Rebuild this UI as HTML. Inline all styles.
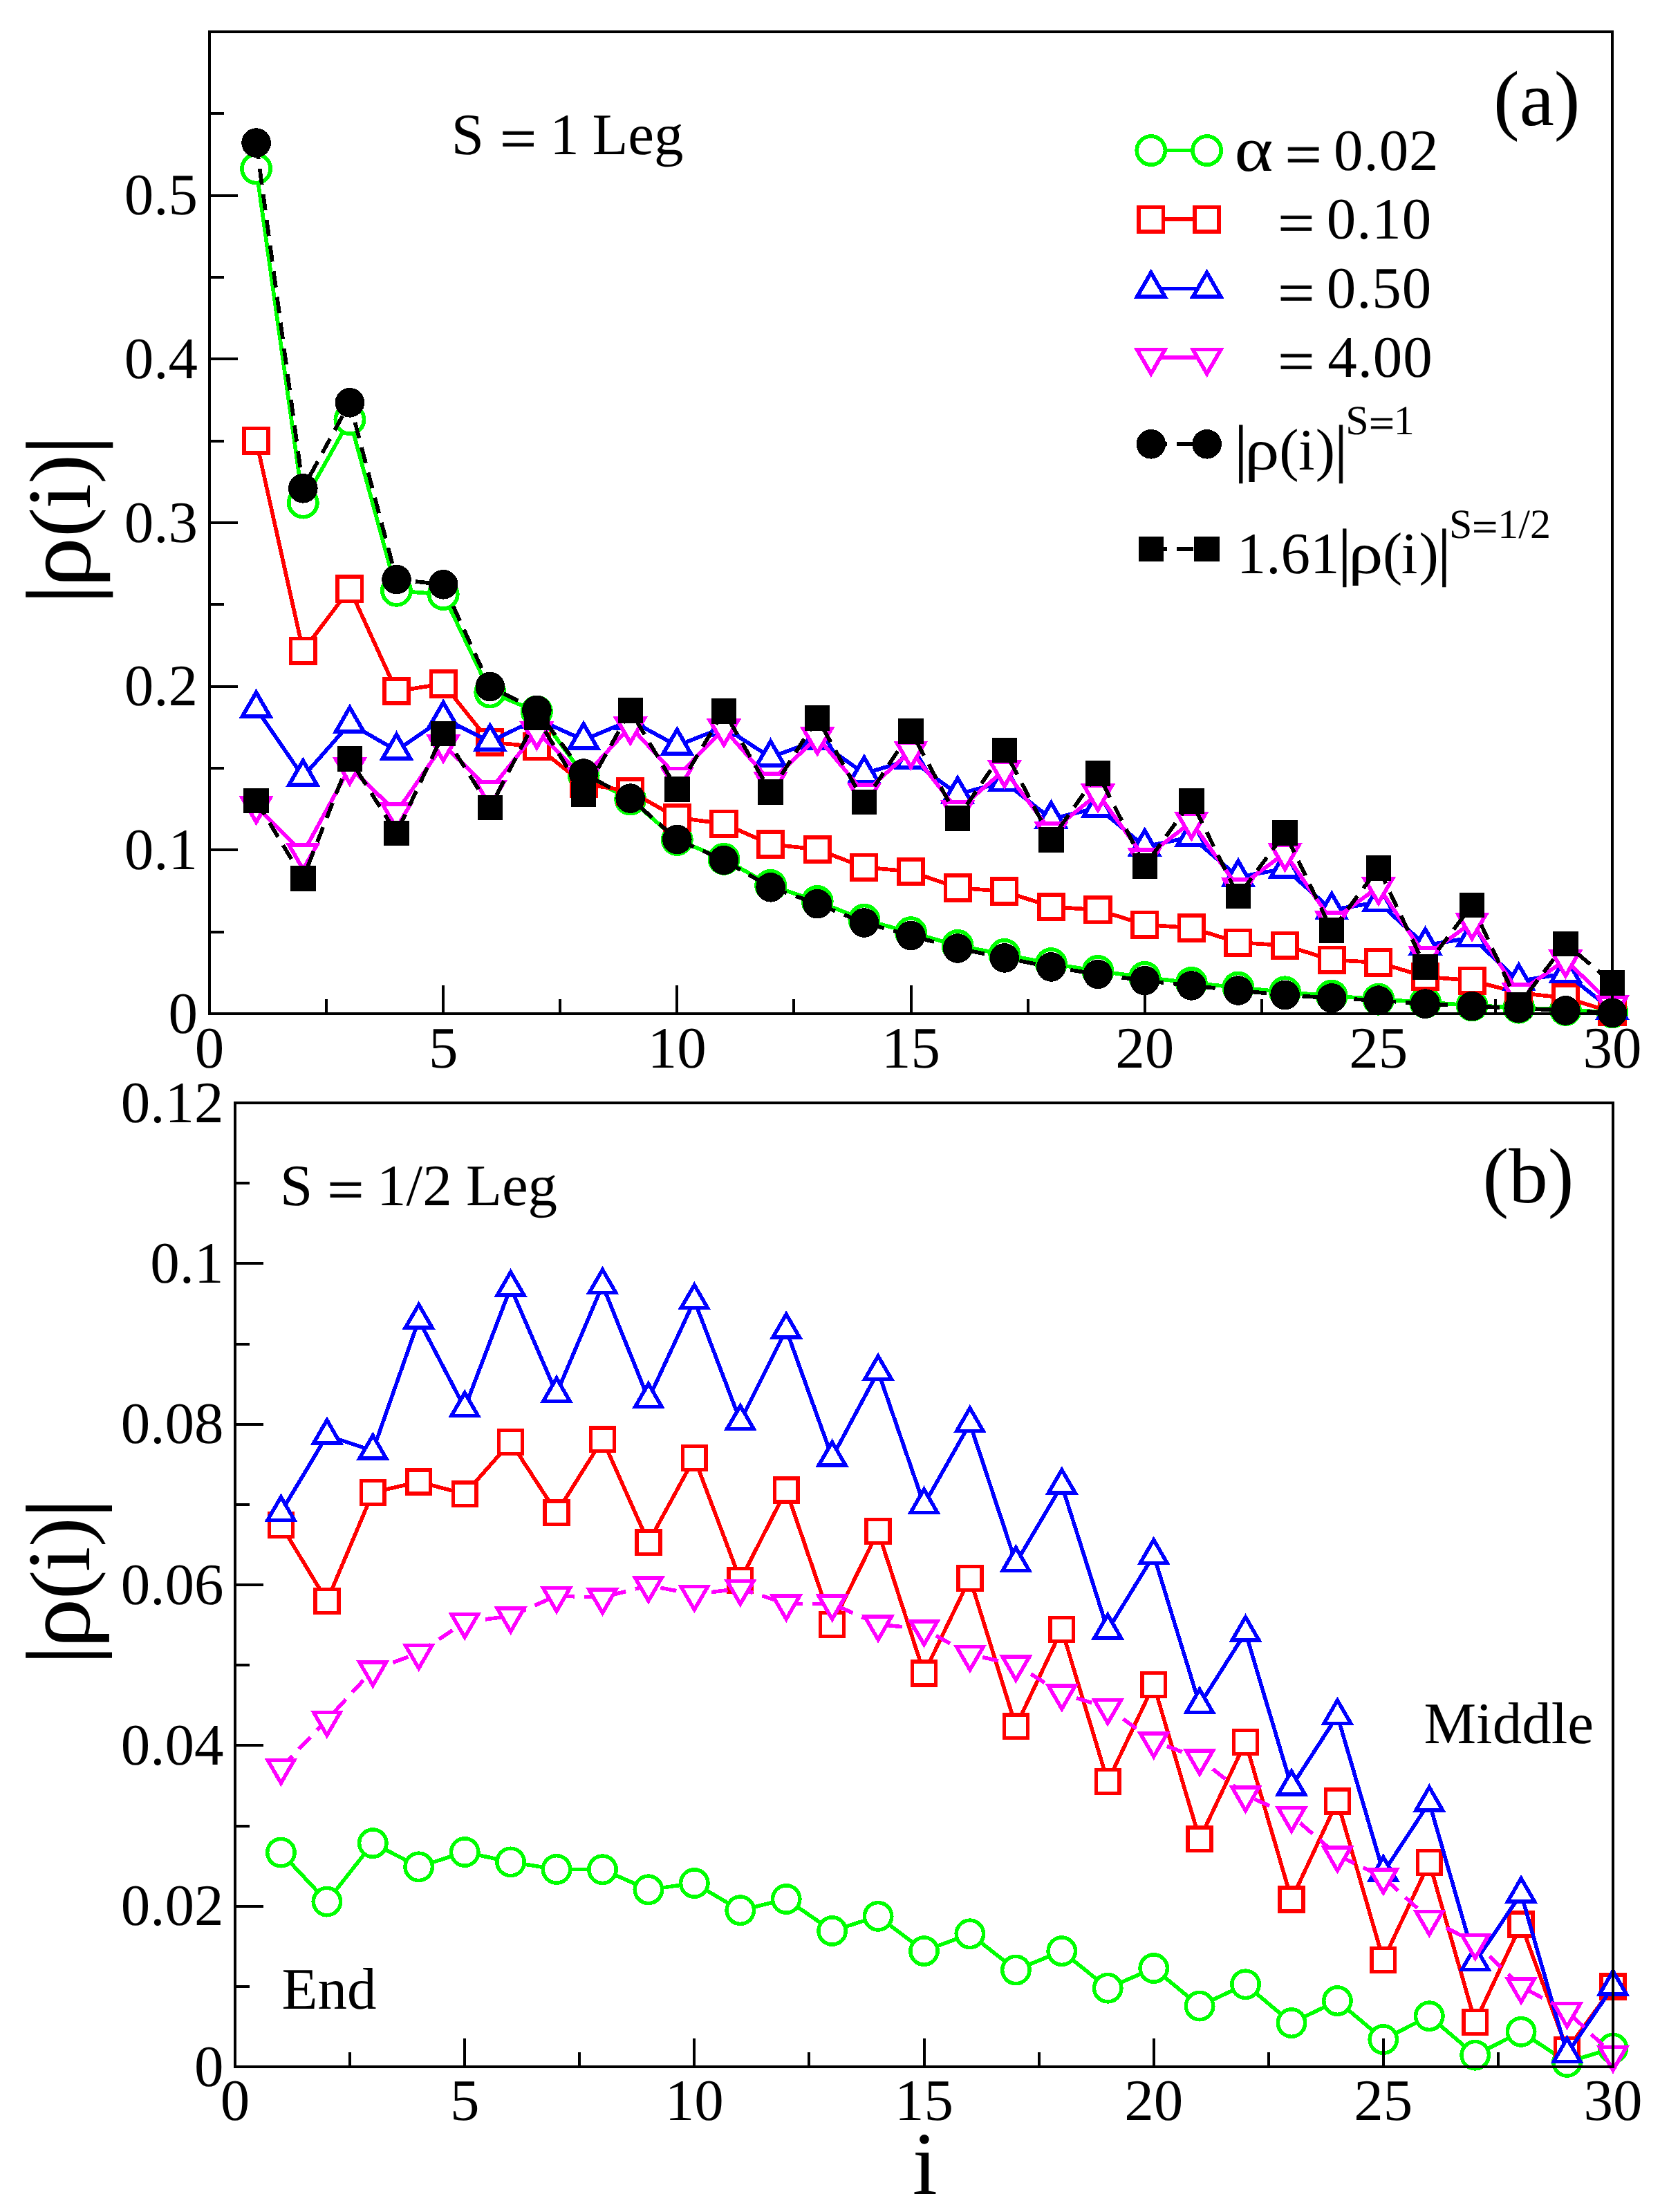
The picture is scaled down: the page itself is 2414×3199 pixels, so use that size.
<!DOCTYPE html>
<html lang="en"><head><meta charset="utf-8"><title>rho(i) profiles</title>
<style>html,body{margin:0;padding:0;background:#fff}svg{display:block}</style></head>
<body>
<svg width="2414" height="3199" viewBox="0 0 2414 3199" font-family='"Liberation Serif", "DejaVu Serif", serif' fill="#000" shape-rendering="crispEdges">
<rect x="0" y="0" width="2414" height="3199" fill="#ffffff"/>
<polyline points="370.6,244 438.3,727.1 505.9,606.7 573.5,854.3 641.2,859.6 708.8,1001 776.4,1029 844.1,1121 911.7,1156 979.3,1214.5 1047,1242.3 1114.6,1280.4 1182.2,1303.5 1249.9,1330.2 1317.5,1348.6 1385.1,1367.4 1452.8,1380.4 1520.4,1393.6 1588,1404.4 1655.7,1413.3 1723.3,1421.4 1790.9,1428.1 1858.6,1434.8 1926.2,1440.1 1993.8,1445.2 2061.5,1449.5 2129.1,1454 2196.7,1457.2 2264.4,1460.5 2332,1464" fill="none" stroke="#00ff00" stroke-width="5.7" stroke-linejoin="round"/>
<g fill="#ffffff" stroke="#00ff00" stroke-width="5.7" stroke-linejoin="miter" stroke-miterlimit="10">
<circle cx="370.6" cy="244" r="20.6"/>
<circle cx="438.3" cy="727.1" r="20.6"/>
<circle cx="505.9" cy="606.7" r="20.6"/>
<circle cx="573.5" cy="854.3" r="20.6"/>
<circle cx="641.2" cy="859.6" r="20.6"/>
<circle cx="708.8" cy="1001" r="20.6"/>
<circle cx="776.4" cy="1029" r="20.6"/>
<circle cx="844.1" cy="1121" r="20.6"/>
<circle cx="911.7" cy="1156" r="20.6"/>
<circle cx="979.3" cy="1214.5" r="20.6"/>
<circle cx="1047" cy="1242.3" r="20.6"/>
<circle cx="1114.6" cy="1280.4" r="20.6"/>
<circle cx="1182.2" cy="1303.5" r="20.6"/>
<circle cx="1249.9" cy="1330.2" r="20.6"/>
<circle cx="1317.5" cy="1348.6" r="20.6"/>
<circle cx="1385.1" cy="1367.4" r="20.6"/>
<circle cx="1452.8" cy="1380.4" r="20.6"/>
<circle cx="1520.4" cy="1393.6" r="20.6"/>
<circle cx="1588" cy="1404.4" r="20.6"/>
<circle cx="1655.7" cy="1413.3" r="20.6"/>
<circle cx="1723.3" cy="1421.4" r="20.6"/>
<circle cx="1790.9" cy="1428.1" r="20.6"/>
<circle cx="1858.6" cy="1434.8" r="20.6"/>
<circle cx="1926.2" cy="1440.1" r="20.6"/>
<circle cx="1993.8" cy="1445.2" r="20.6"/>
<circle cx="2061.5" cy="1449.5" r="20.6"/>
<circle cx="2129.1" cy="1454" r="20.6"/>
<circle cx="2196.7" cy="1457.2" r="20.6"/>
<circle cx="2264.4" cy="1460.5" r="20.6"/>
<circle cx="2332" cy="1464" r="20.6"/>
</g>
<polyline points="370.6,637.3 438.3,941.3 505.9,851.7 573.5,999.5 641.2,989 708.8,1073.5 776.4,1079.7 844.1,1133.5 911.7,1144.5 979.3,1182.5 1047,1191.2 1114.6,1221 1182.2,1228.4 1249.9,1254.3 1317.5,1260.4 1385.1,1284 1452.8,1289 1520.4,1311.4 1588,1315.9 1655.7,1337.1 1723.3,1342 1790.9,1363.1 1858.6,1367.2 1926.2,1388.3 1993.8,1392 2061.5,1412.6 2129.1,1418.1 2196.7,1436 2264.4,1443 2332,1463.7" fill="none" stroke="#ff0000" stroke-width="5.7" stroke-linejoin="round"/>
<g fill="#ffffff" stroke="#ff0000" stroke-width="5.7" stroke-linejoin="miter" stroke-miterlimit="10">
<rect x="352.9" y="619.6" width="35.4" height="35.4"/>
<rect x="420.6" y="923.6" width="35.4" height="35.4"/>
<rect x="488.2" y="834" width="35.4" height="35.4"/>
<rect x="555.8" y="981.8" width="35.4" height="35.4"/>
<rect x="623.5" y="971.3" width="35.4" height="35.4"/>
<rect x="691.1" y="1055.8" width="35.4" height="35.4"/>
<rect x="758.7" y="1062" width="35.4" height="35.4"/>
<rect x="826.4" y="1115.8" width="35.4" height="35.4"/>
<rect x="894" y="1126.8" width="35.4" height="35.4"/>
<rect x="961.6" y="1164.8" width="35.4" height="35.4"/>
<rect x="1029.3" y="1173.5" width="35.4" height="35.4"/>
<rect x="1096.9" y="1203.3" width="35.4" height="35.4"/>
<rect x="1164.5" y="1210.7" width="35.4" height="35.4"/>
<rect x="1232.2" y="1236.6" width="35.4" height="35.4"/>
<rect x="1299.8" y="1242.7" width="35.4" height="35.4"/>
<rect x="1367.4" y="1266.3" width="35.4" height="35.4"/>
<rect x="1435.1" y="1271.3" width="35.4" height="35.4"/>
<rect x="1502.7" y="1293.7" width="35.4" height="35.4"/>
<rect x="1570.3" y="1298.2" width="35.4" height="35.4"/>
<rect x="1638" y="1319.4" width="35.4" height="35.4"/>
<rect x="1705.6" y="1324.3" width="35.4" height="35.4"/>
<rect x="1773.2" y="1345.4" width="35.4" height="35.4"/>
<rect x="1840.9" y="1349.5" width="35.4" height="35.4"/>
<rect x="1908.5" y="1370.6" width="35.4" height="35.4"/>
<rect x="1976.1" y="1374.3" width="35.4" height="35.4"/>
<rect x="2043.8" y="1394.9" width="35.4" height="35.4"/>
<rect x="2111.4" y="1400.4" width="35.4" height="35.4"/>
<rect x="2179" y="1418.3" width="35.4" height="35.4"/>
<rect x="2246.7" y="1425.3" width="35.4" height="35.4"/>
<rect x="2314.3" y="1446" width="35.4" height="35.4"/>
</g>
<polyline points="370.6,1024.6 438.3,1123.3 505.9,1046.4 573.5,1085.4 641.2,1039.1 708.8,1072.6 776.4,1039.7 844.1,1070.2 911.7,1041.7 979.3,1078.5 1047,1051.7 1114.6,1095.3 1182.2,1070.2 1249.9,1118.7 1317.5,1098.5 1385.1,1148.6 1452.8,1130.8 1520.4,1184.3 1588,1168.1 1655.7,1224.3 1723.3,1210.5 1790.9,1268.4 1858.6,1256.3 1926.2,1315.9 1993.8,1304.7 2061.5,1367.1 2129.1,1355.9 2196.7,1418.9 2264.4,1407.7 2332,1460.9" fill="none" stroke="#0000ff" stroke-width="5.7" stroke-linejoin="round"/>
<g fill="#ffffff" stroke="#0000ff" stroke-width="5.7" stroke-linejoin="miter" stroke-miterlimit="10">
<polygon points="370.6,1001.3 350.4,1036.3 390.8,1036.3"/>
<polygon points="438.3,1100 418.1,1135 458.5,1135"/>
<polygon points="505.9,1023.1 485.7,1058.1 526.1,1058.1"/>
<polygon points="573.5,1062.1 553.3,1097.1 593.7,1097.1"/>
<polygon points="641.2,1015.8 621,1050.8 661.4,1050.8"/>
<polygon points="708.8,1049.3 688.6,1084.3 729,1084.3"/>
<polygon points="776.4,1016.4 756.2,1051.4 796.6,1051.4"/>
<polygon points="844.1,1046.9 823.9,1081.9 864.3,1081.9"/>
<polygon points="911.7,1018.4 891.5,1053.4 931.9,1053.4"/>
<polygon points="979.3,1055.2 959.1,1090.2 999.5,1090.2"/>
<polygon points="1047,1028.4 1026.8,1063.4 1067.2,1063.4"/>
<polygon points="1114.6,1072 1094.4,1107 1134.8,1107"/>
<polygon points="1182.2,1046.9 1162,1081.9 1202.4,1081.9"/>
<polygon points="1249.9,1095.4 1229.7,1130.4 1270.1,1130.4"/>
<polygon points="1317.5,1075.2 1297.3,1110.2 1337.7,1110.2"/>
<polygon points="1385.1,1125.3 1364.9,1160.3 1405.3,1160.3"/>
<polygon points="1452.8,1107.5 1432.6,1142.5 1473,1142.5"/>
<polygon points="1520.4,1161 1500.2,1196 1540.6,1196"/>
<polygon points="1588,1144.8 1567.8,1179.8 1608.2,1179.8"/>
<polygon points="1655.7,1201 1635.5,1236 1675.9,1236"/>
<polygon points="1723.3,1187.2 1703.1,1222.2 1743.5,1222.2"/>
<polygon points="1790.9,1245.1 1770.7,1280.1 1811.1,1280.1"/>
<polygon points="1858.6,1233 1838.4,1268 1878.8,1268"/>
<polygon points="1926.2,1292.6 1906,1327.6 1946.4,1327.6"/>
<polygon points="1993.8,1281.4 1973.6,1316.4 2014,1316.4"/>
<polygon points="2061.5,1343.8 2041.3,1378.8 2081.7,1378.8"/>
<polygon points="2129.1,1332.6 2108.9,1367.6 2149.3,1367.6"/>
<polygon points="2196.7,1395.6 2176.5,1430.6 2216.9,1430.6"/>
<polygon points="2264.4,1384.4 2244.2,1419.4 2284.6,1419.4"/>
<polygon points="2332,1437.6 2311.8,1472.6 2352.2,1472.6"/>
</g>
<polyline points="370.6,1165.6 438.3,1233.8 505.9,1109.7 573.5,1174.5 641.2,1076.7 708.8,1142.7 776.4,1057.8 844.1,1123.9 911.7,1050.8 979.3,1123.3 1047,1054 1114.6,1130.6 1182.2,1065.9 1249.9,1146.7 1317.5,1086.1 1385.1,1171.8 1452.8,1113.7 1520.4,1202.6 1588,1148 1655.7,1240.7 1723.3,1188.7 1790.9,1283.6 1858.6,1233.8 1926.2,1331.9 1993.8,1282.6 2061.5,1382.6 2129.1,1334.1 2196.7,1435.7 2264.4,1388 2332,1453.9" fill="none" stroke="#ff00ff" stroke-width="5.7" stroke-linejoin="round"/>
<g fill="#ffffff" stroke="#ff00ff" stroke-width="5.7" stroke-linejoin="miter" stroke-miterlimit="10">
<polygon points="370.6,1188.9 350.4,1153.9 390.8,1153.9"/>
<polygon points="438.3,1257.1 418.1,1222.1 458.5,1222.1"/>
<polygon points="505.9,1133 485.7,1098 526.1,1098"/>
<polygon points="573.5,1197.8 553.3,1162.8 593.7,1162.8"/>
<polygon points="641.2,1100 621,1065 661.4,1065"/>
<polygon points="708.8,1166 688.6,1131 729,1131"/>
<polygon points="776.4,1081.1 756.2,1046.1 796.6,1046.1"/>
<polygon points="844.1,1147.2 823.9,1112.2 864.3,1112.2"/>
<polygon points="911.7,1074.1 891.5,1039.1 931.9,1039.1"/>
<polygon points="979.3,1146.6 959.1,1111.6 999.5,1111.6"/>
<polygon points="1047,1077.3 1026.8,1042.3 1067.2,1042.3"/>
<polygon points="1114.6,1153.9 1094.4,1118.9 1134.8,1118.9"/>
<polygon points="1182.2,1089.2 1162,1054.2 1202.4,1054.2"/>
<polygon points="1249.9,1170 1229.7,1135 1270.1,1135"/>
<polygon points="1317.5,1109.4 1297.3,1074.4 1337.7,1074.4"/>
<polygon points="1385.1,1195.1 1364.9,1160.1 1405.3,1160.1"/>
<polygon points="1452.8,1137 1432.6,1102 1473,1102"/>
<polygon points="1520.4,1225.9 1500.2,1190.9 1540.6,1190.9"/>
<polygon points="1588,1171.3 1567.8,1136.3 1608.2,1136.3"/>
<polygon points="1655.7,1264 1635.5,1229 1675.9,1229"/>
<polygon points="1723.3,1212 1703.1,1177 1743.5,1177"/>
<polygon points="1790.9,1306.9 1770.7,1271.9 1811.1,1271.9"/>
<polygon points="1858.6,1257.1 1838.4,1222.1 1878.8,1222.1"/>
<polygon points="1926.2,1355.2 1906,1320.2 1946.4,1320.2"/>
<polygon points="1993.8,1305.9 1973.6,1270.9 2014,1270.9"/>
<polygon points="2061.5,1405.9 2041.3,1370.9 2081.7,1370.9"/>
<polygon points="2129.1,1357.4 2108.9,1322.4 2149.3,1322.4"/>
<polygon points="2196.7,1459 2176.5,1424 2216.9,1424"/>
<polygon points="2264.4,1411.3 2244.2,1376.3 2284.6,1376.3"/>
<polygon points="2332,1477.2 2311.8,1442.2 2352.2,1442.2"/>
</g>
<polyline points="370.6,206.6 438.3,706.3 505.9,582.3 573.5,838.1 641.2,845.3 708.8,993 776.4,1027 844.1,1118.5 911.7,1154.6 979.3,1214 1047,1244 1114.6,1283.3 1182.2,1307.2 1249.9,1334.5 1317.5,1353 1385.1,1371.5 1452.8,1385.4 1520.4,1398.4 1588,1409 1655.7,1418.1 1723.3,1425.4 1790.9,1432.5 1858.6,1439 1926.2,1443.4 1993.8,1447 2061.5,1451.6 2129.1,1455.1 2196.7,1458.1 2264.4,1461.4 2332,1464.8" fill="none" stroke="#000000" stroke-width="5.7" stroke-linejoin="round" stroke-dasharray="23.5 14"/>
<g fill="#000000" stroke="none">
<circle cx="370.6" cy="206.6" r="21.3"/>
<circle cx="438.3" cy="706.3" r="21.3"/>
<circle cx="505.9" cy="582.3" r="21.3"/>
<circle cx="573.5" cy="838.1" r="21.3"/>
<circle cx="641.2" cy="845.3" r="21.3"/>
<circle cx="708.8" cy="993" r="21.3"/>
<circle cx="776.4" cy="1027" r="21.3"/>
<circle cx="844.1" cy="1118.5" r="21.3"/>
<circle cx="911.7" cy="1154.6" r="21.3"/>
<circle cx="979.3" cy="1214" r="21.3"/>
<circle cx="1047" cy="1244" r="21.3"/>
<circle cx="1114.6" cy="1283.3" r="21.3"/>
<circle cx="1182.2" cy="1307.2" r="21.3"/>
<circle cx="1249.9" cy="1334.5" r="21.3"/>
<circle cx="1317.5" cy="1353" r="21.3"/>
<circle cx="1385.1" cy="1371.5" r="21.3"/>
<circle cx="1452.8" cy="1385.4" r="21.3"/>
<circle cx="1520.4" cy="1398.4" r="21.3"/>
<circle cx="1588" cy="1409" r="21.3"/>
<circle cx="1655.7" cy="1418.1" r="21.3"/>
<circle cx="1723.3" cy="1425.4" r="21.3"/>
<circle cx="1790.9" cy="1432.5" r="21.3"/>
<circle cx="1858.6" cy="1439" r="21.3"/>
<circle cx="1926.2" cy="1443.4" r="21.3"/>
<circle cx="1993.8" cy="1447" r="21.3"/>
<circle cx="2061.5" cy="1451.6" r="21.3"/>
<circle cx="2129.1" cy="1455.1" r="21.3"/>
<circle cx="2196.7" cy="1458.1" r="21.3"/>
<circle cx="2264.4" cy="1461.4" r="21.3"/>
<circle cx="2332" cy="1464.8" r="21.3"/>
</g>
<polyline points="370.6,1158 438.3,1270.4 505.9,1097.6 573.5,1205 641.2,1060.7 708.8,1168 776.4,1037.7 844.1,1148.8 911.7,1027.5 979.3,1141.4 1047,1028.6 1114.6,1145.6 1182.2,1038.6 1249.9,1160 1317.5,1057.4 1385.1,1183.5 1452.8,1084.7 1520.4,1214.4 1588,1118.6 1655.7,1252.4 1723.3,1158.5 1790.9,1296.2 1858.6,1204.5 1926.2,1345.5 1993.8,1255.6 2061.5,1398.4 2129.1,1309.2 2196.7,1453.3 2264.4,1364.7 2332,1421.4" fill="none" stroke="#000000" stroke-width="5.7" stroke-linejoin="round" stroke-dasharray="23.5 14"/>
<g fill="#000000" stroke="none">
<rect x="352.4" y="1139.8" width="36.4" height="36.4"/>
<rect x="420.1" y="1252.2" width="36.4" height="36.4"/>
<rect x="487.7" y="1079.4" width="36.4" height="36.4"/>
<rect x="555.3" y="1186.8" width="36.4" height="36.4"/>
<rect x="623" y="1042.5" width="36.4" height="36.4"/>
<rect x="690.6" y="1149.8" width="36.4" height="36.4"/>
<rect x="758.2" y="1019.5" width="36.4" height="36.4"/>
<rect x="825.9" y="1130.6" width="36.4" height="36.4"/>
<rect x="893.5" y="1009.3" width="36.4" height="36.4"/>
<rect x="961.1" y="1123.2" width="36.4" height="36.4"/>
<rect x="1028.8" y="1010.4" width="36.4" height="36.4"/>
<rect x="1096.4" y="1127.4" width="36.4" height="36.4"/>
<rect x="1164" y="1020.4" width="36.4" height="36.4"/>
<rect x="1231.7" y="1141.8" width="36.4" height="36.4"/>
<rect x="1299.3" y="1039.2" width="36.4" height="36.4"/>
<rect x="1366.9" y="1165.3" width="36.4" height="36.4"/>
<rect x="1434.6" y="1066.5" width="36.4" height="36.4"/>
<rect x="1502.2" y="1196.2" width="36.4" height="36.4"/>
<rect x="1569.8" y="1100.4" width="36.4" height="36.4"/>
<rect x="1637.5" y="1234.2" width="36.4" height="36.4"/>
<rect x="1705.1" y="1140.3" width="36.4" height="36.4"/>
<rect x="1772.7" y="1278" width="36.4" height="36.4"/>
<rect x="1840.4" y="1186.3" width="36.4" height="36.4"/>
<rect x="1908" y="1327.3" width="36.4" height="36.4"/>
<rect x="1975.6" y="1237.4" width="36.4" height="36.4"/>
<rect x="2043.3" y="1380.2" width="36.4" height="36.4"/>
<rect x="2110.9" y="1291" width="36.4" height="36.4"/>
<rect x="2178.5" y="1435.1" width="36.4" height="36.4"/>
<rect x="2246.2" y="1346.5" width="36.4" height="36.4"/>
<rect x="2313.8" y="1403.2" width="36.4" height="36.4"/>
</g>
<polyline points="406.4,2679.1 472.9,2750.1 539.3,2665.6 605.7,2699.8 672.2,2678.5 738.6,2692.9 805,2703.4 871.5,2703.7 937.9,2732.8 1004.3,2723.5 1070.8,2762.7 1137.2,2746.5 1203.6,2792.5 1270.1,2771.3 1336.5,2821.6 1402.9,2796.8 1469.4,2849 1535.8,2821.7 1602.2,2875.2 1668.7,2846.5 1735.1,2901.1 1801.5,2869.8 1868,2925.6 1934.4,2893.6 2000.8,2949.5 2067.3,2915.7 2133.7,2972.2 2200.1,2938.3 2266.6,2982.4 2333,2962" fill="none" stroke="#00ff00" stroke-width="5.6" stroke-linejoin="round"/>
<g fill="#ffffff" stroke="#00ff00" stroke-width="5.5" stroke-linejoin="miter" stroke-miterlimit="10">
<circle cx="406.4" cy="2679.1" r="19.7"/>
<circle cx="472.9" cy="2750.1" r="19.7"/>
<circle cx="539.3" cy="2665.6" r="19.7"/>
<circle cx="605.7" cy="2699.8" r="19.7"/>
<circle cx="672.2" cy="2678.5" r="19.7"/>
<circle cx="738.6" cy="2692.9" r="19.7"/>
<circle cx="805" cy="2703.4" r="19.7"/>
<circle cx="871.5" cy="2703.7" r="19.7"/>
<circle cx="937.9" cy="2732.8" r="19.7"/>
<circle cx="1004.3" cy="2723.5" r="19.7"/>
<circle cx="1070.8" cy="2762.7" r="19.7"/>
<circle cx="1137.2" cy="2746.5" r="19.7"/>
<circle cx="1203.6" cy="2792.5" r="19.7"/>
<circle cx="1270.1" cy="2771.3" r="19.7"/>
<circle cx="1336.5" cy="2821.6" r="19.7"/>
<circle cx="1402.9" cy="2796.8" r="19.7"/>
<circle cx="1469.4" cy="2849" r="19.7"/>
<circle cx="1535.8" cy="2821.7" r="19.7"/>
<circle cx="1602.2" cy="2875.2" r="19.7"/>
<circle cx="1668.7" cy="2846.5" r="19.7"/>
<circle cx="1735.1" cy="2901.1" r="19.7"/>
<circle cx="1801.5" cy="2869.8" r="19.7"/>
<circle cx="1868" cy="2925.6" r="19.7"/>
<circle cx="1934.4" cy="2893.6" r="19.7"/>
<circle cx="2000.8" cy="2949.5" r="19.7"/>
<circle cx="2067.3" cy="2915.7" r="19.7"/>
<circle cx="2133.7" cy="2972.2" r="19.7"/>
<circle cx="2200.1" cy="2938.3" r="19.7"/>
<circle cx="2266.6" cy="2982.4" r="19.7"/>
<circle cx="2333" cy="2962" r="19.7"/>
</g>
<polyline points="406.4,2205.5 472.9,2315.4 539.3,2158.5 605.7,2143 672.2,2160.7 738.6,2085.4 805,2187.8 871.5,2081.7 937.9,2230.7 1004.3,2108.6 1070.8,2285.3 1137.2,2155 1203.6,2349.5 1270.1,2214.5 1336.5,2420 1402.9,2282.5 1469.4,2496.7 1535.8,2356.5 1602.2,2576.5 1668.7,2436.6 1735.1,2659.8 1801.5,2519.5 1868,2747 1934.4,2605 2000.8,2834.6 2067.3,2693.5 2133.7,2924.4 2200.1,2783.1 2266.6,2964.3 2333,2873" fill="none" stroke="#ff0000" stroke-width="5.6" stroke-linejoin="round"/>
<g fill="#ffffff" stroke="#ff0000" stroke-width="5.5" stroke-linejoin="miter" stroke-miterlimit="10">
<rect x="389.5" y="2188.6" width="33.8" height="33.8"/>
<rect x="456" y="2298.5" width="33.8" height="33.8"/>
<rect x="522.4" y="2141.6" width="33.8" height="33.8"/>
<rect x="588.8" y="2126.1" width="33.8" height="33.8"/>
<rect x="655.3" y="2143.8" width="33.8" height="33.8"/>
<rect x="721.7" y="2068.5" width="33.8" height="33.8"/>
<rect x="788.1" y="2170.9" width="33.8" height="33.8"/>
<rect x="854.6" y="2064.8" width="33.8" height="33.8"/>
<rect x="921" y="2213.8" width="33.8" height="33.8"/>
<rect x="987.4" y="2091.7" width="33.8" height="33.8"/>
<rect x="1053.9" y="2268.4" width="33.8" height="33.8"/>
<rect x="1120.3" y="2138.1" width="33.8" height="33.8"/>
<rect x="1186.7" y="2332.6" width="33.8" height="33.8"/>
<rect x="1253.2" y="2197.6" width="33.8" height="33.8"/>
<rect x="1319.6" y="2403.1" width="33.8" height="33.8"/>
<rect x="1386" y="2265.6" width="33.8" height="33.8"/>
<rect x="1452.5" y="2479.8" width="33.8" height="33.8"/>
<rect x="1518.9" y="2339.6" width="33.8" height="33.8"/>
<rect x="1585.3" y="2559.6" width="33.8" height="33.8"/>
<rect x="1651.8" y="2419.7" width="33.8" height="33.8"/>
<rect x="1718.2" y="2642.9" width="33.8" height="33.8"/>
<rect x="1784.6" y="2502.6" width="33.8" height="33.8"/>
<rect x="1851.1" y="2730.1" width="33.8" height="33.8"/>
<rect x="1917.5" y="2588.1" width="33.8" height="33.8"/>
<rect x="1983.9" y="2817.7" width="33.8" height="33.8"/>
<rect x="2050.4" y="2676.6" width="33.8" height="33.8"/>
<rect x="2116.8" y="2907.5" width="33.8" height="33.8"/>
<rect x="2183.2" y="2766.2" width="33.8" height="33.8"/>
<rect x="2249.7" y="2947.4" width="33.8" height="33.8"/>
<rect x="2316.1" y="2856.1" width="33.8" height="33.8"/>
</g>
<polyline points="406.4,2187.2 472.9,2076 539.3,2098.1 605.7,1908.9 672.2,2036.5 738.6,1861.9 805,2015.4 871.5,1858.5 937.9,2023.5 1004.3,1880.6 1070.8,2055.4 1137.2,1922.9 1203.6,2107.8 1270.1,1983.4 1336.5,2176.2 1402.9,2058.6 1469.4,2260.5 1535.8,2147.9 1602.2,2357.7 1668.7,2249.2 1735.1,2465.5 1801.5,2360.9 1868,2583.8 1934.4,2481.2 2000.8,2708 2067.3,2606.9 2133.7,2837.4 2200.1,2738.8 2266.6,2970.4 2333,2872.8" fill="none" stroke="#0000ff" stroke-width="5.6" stroke-linejoin="round"/>
<g fill="#ffffff" stroke="#0000ff" stroke-width="5.5" stroke-linejoin="miter" stroke-miterlimit="10">
<polygon points="406.4,2164.9 387.1,2198.3 425.7,2198.3"/>
<polygon points="472.9,2053.7 453.6,2087.1 492.2,2087.1"/>
<polygon points="539.3,2075.8 520,2109.2 558.6,2109.2"/>
<polygon points="605.7,1886.6 586.4,1920 625,1920"/>
<polygon points="672.2,2014.2 652.9,2047.6 691.5,2047.6"/>
<polygon points="738.6,1839.6 719.3,1873 757.9,1873"/>
<polygon points="805,1993.1 785.7,2026.5 824.3,2026.5"/>
<polygon points="871.5,1836.2 852.2,1869.6 890.8,1869.6"/>
<polygon points="937.9,2001.2 918.6,2034.6 957.2,2034.6"/>
<polygon points="1004.3,1858.3 985,1891.7 1023.6,1891.7"/>
<polygon points="1070.8,2033.1 1051.5,2066.5 1090.1,2066.5"/>
<polygon points="1137.2,1900.6 1117.9,1934 1156.5,1934"/>
<polygon points="1203.6,2085.5 1184.3,2118.9 1222.9,2118.9"/>
<polygon points="1270.1,1961.1 1250.8,1994.5 1289.4,1994.5"/>
<polygon points="1336.5,2153.9 1317.2,2187.3 1355.8,2187.3"/>
<polygon points="1402.9,2036.3 1383.6,2069.7 1422.2,2069.7"/>
<polygon points="1469.4,2238.2 1450.1,2271.6 1488.7,2271.6"/>
<polygon points="1535.8,2125.6 1516.5,2159 1555.1,2159"/>
<polygon points="1602.2,2335.4 1582.9,2368.8 1621.5,2368.8"/>
<polygon points="1668.7,2226.9 1649.4,2260.3 1688,2260.3"/>
<polygon points="1735.1,2443.2 1715.8,2476.6 1754.4,2476.6"/>
<polygon points="1801.5,2338.6 1782.2,2372 1820.8,2372"/>
<polygon points="1868,2561.5 1848.7,2594.9 1887.3,2594.9"/>
<polygon points="1934.4,2458.9 1915.1,2492.3 1953.7,2492.3"/>
<polygon points="2000.8,2685.7 1981.5,2719.1 2020.1,2719.1"/>
<polygon points="2067.3,2584.6 2048,2618 2086.6,2618"/>
<polygon points="2133.7,2815.1 2114.4,2848.5 2153,2848.5"/>
<polygon points="2200.1,2716.5 2180.8,2749.9 2219.4,2749.9"/>
<polygon points="2266.6,2948.1 2247.3,2981.5 2285.9,2981.5"/>
<polygon points="2333,2850.5 2313.7,2883.9 2352.3,2883.9"/>
</g>
<polyline points="406.4,2556.4 472.9,2487.4 539.3,2415.1 605.7,2390.5 672.2,2345.6 738.6,2337.3 805,2307.8 871.5,2310.3 937.9,2292.9 1004.3,2305.7 1070.8,2297.4 1137.2,2319.3 1203.6,2319.3 1270.1,2349.1 1336.5,2356 1402.9,2392.7 1469.4,2407.3 1535.8,2449.2 1602.2,2469.7 1668.7,2518.2 1735.1,2543 1801.5,2596.2 1868,2625.7 1934.4,2682.9 2000.8,2714.9 2067.3,2775.4 2133.7,2809.6 2200.1,2872.9 2266.6,2908.6 2333,2971.7" fill="none" stroke="#ff00ff" stroke-width="5.6" stroke-linejoin="round" stroke-dasharray="23.5 14"/>
<g fill="#ffffff" stroke="#ff00ff" stroke-width="5.5" stroke-linejoin="miter" stroke-miterlimit="10">
<polygon points="406.4,2578.7 387.1,2545.3 425.7,2545.3"/>
<polygon points="472.9,2509.7 453.6,2476.3 492.2,2476.3"/>
<polygon points="539.3,2437.4 520,2404 558.6,2404"/>
<polygon points="605.7,2412.8 586.4,2379.4 625,2379.4"/>
<polygon points="672.2,2367.9 652.9,2334.5 691.5,2334.5"/>
<polygon points="738.6,2359.6 719.3,2326.2 757.9,2326.2"/>
<polygon points="805,2330.1 785.7,2296.7 824.3,2296.7"/>
<polygon points="871.5,2332.6 852.2,2299.2 890.8,2299.2"/>
<polygon points="937.9,2315.2 918.6,2281.8 957.2,2281.8"/>
<polygon points="1004.3,2328 985,2294.6 1023.6,2294.6"/>
<polygon points="1070.8,2319.7 1051.5,2286.3 1090.1,2286.3"/>
<polygon points="1137.2,2341.6 1117.9,2308.2 1156.5,2308.2"/>
<polygon points="1203.6,2341.6 1184.3,2308.2 1222.9,2308.2"/>
<polygon points="1270.1,2371.4 1250.8,2338 1289.4,2338"/>
<polygon points="1336.5,2378.3 1317.2,2344.9 1355.8,2344.9"/>
<polygon points="1402.9,2415 1383.6,2381.6 1422.2,2381.6"/>
<polygon points="1469.4,2429.6 1450.1,2396.2 1488.7,2396.2"/>
<polygon points="1535.8,2471.5 1516.5,2438.1 1555.1,2438.1"/>
<polygon points="1602.2,2492 1582.9,2458.6 1621.5,2458.6"/>
<polygon points="1668.7,2540.5 1649.4,2507.1 1688,2507.1"/>
<polygon points="1735.1,2565.3 1715.8,2531.9 1754.4,2531.9"/>
<polygon points="1801.5,2618.5 1782.2,2585.1 1820.8,2585.1"/>
<polygon points="1868,2648 1848.7,2614.6 1887.3,2614.6"/>
<polygon points="1934.4,2705.2 1915.1,2671.8 1953.7,2671.8"/>
<polygon points="2000.8,2737.2 1981.5,2703.8 2020.1,2703.8"/>
<polygon points="2067.3,2797.7 2048,2764.3 2086.6,2764.3"/>
<polygon points="2133.7,2831.9 2114.4,2798.5 2153,2798.5"/>
<polygon points="2200.1,2895.2 2180.8,2861.8 2219.4,2861.8"/>
<polygon points="2266.6,2930.9 2247.3,2897.5 2285.9,2897.5"/>
<polygon points="2333,2994 2313.7,2960.6 2352.3,2960.6"/>
</g>
<polyline points="1664.8,217.6 1745.6,217.6" fill="none" stroke="#00ff00" stroke-width="5.7" stroke-linejoin="round"/>
<g fill="#ffffff" stroke="#00ff00" stroke-width="5.7" stroke-linejoin="miter" stroke-miterlimit="10">
<circle cx="1664.8" cy="217.6" r="20.6"/>
<circle cx="1745.6" cy="217.6" r="20.6"/>
</g>
<polyline points="1664.8,317.3 1745.6,317.3" fill="none" stroke="#ff0000" stroke-width="5.7" stroke-linejoin="round"/>
<g fill="#ffffff" stroke="#ff0000" stroke-width="5.7" stroke-linejoin="miter" stroke-miterlimit="10">
<rect x="1647.1" y="299.6" width="35.4" height="35.4"/>
<rect x="1727.9" y="299.6" width="35.4" height="35.4"/>
</g>
<polyline points="1664.8,417.5 1745.6,417.5" fill="none" stroke="#0000ff" stroke-width="5.7" stroke-linejoin="round"/>
<g fill="#ffffff" stroke="#0000ff" stroke-width="5.7" stroke-linejoin="miter" stroke-miterlimit="10">
<polygon points="1664.8,394.2 1644.6,429.2 1685,429.2"/>
<polygon points="1745.6,394.2 1725.4,429.2 1765.8,429.2"/>
</g>
<polyline points="1664.8,517.2 1745.6,517.2" fill="none" stroke="#ff00ff" stroke-width="5.7" stroke-linejoin="round"/>
<g fill="#ffffff" stroke="#ff00ff" stroke-width="5.7" stroke-linejoin="miter" stroke-miterlimit="10">
<polygon points="1664.8,540.5 1644.6,505.5 1685,505.5"/>
<polygon points="1745.6,540.5 1725.4,505.5 1765.8,505.5"/>
</g>
<polyline points="1664.8,642.3 1745.6,642.3" fill="none" stroke="#000000" stroke-width="5.7" stroke-linejoin="round" stroke-dasharray="23.5 14"/>
<g fill="#000000" stroke="none">
<circle cx="1664.8" cy="642.3" r="21.3"/>
<circle cx="1745.6" cy="642.3" r="21.3"/>
</g>
<polyline points="1664.8,794.1 1745.6,794.1" fill="none" stroke="#000000" stroke-width="5.7" stroke-linejoin="round" stroke-dasharray="23.5 14"/>
<g fill="#000000" stroke="none">
<rect x="1646.6" y="775.9" width="36.4" height="36.4"/>
<rect x="1727.4" y="775.9" width="36.4" height="36.4"/>
</g>
<g stroke="#000" stroke-width="4" fill="none" stroke-linecap="butt">
<line x1="303" y1="1466" x2="303" y2="1425"/>
<line x1="472.1" y1="1466" x2="472.1" y2="1445"/>
<line x1="641.2" y1="1466" x2="641.2" y2="1425"/>
<line x1="810.2" y1="1466" x2="810.2" y2="1445"/>
<line x1="979.3" y1="1466" x2="979.3" y2="1425"/>
<line x1="1148.4" y1="1466" x2="1148.4" y2="1445"/>
<line x1="1317.5" y1="1466" x2="1317.5" y2="1425"/>
<line x1="1486.6" y1="1466" x2="1486.6" y2="1445"/>
<line x1="1655.7" y1="1466" x2="1655.7" y2="1425"/>
<line x1="1824.8" y1="1466" x2="1824.8" y2="1445"/>
<line x1="1993.8" y1="1466" x2="1993.8" y2="1425"/>
<line x1="2162.9" y1="1466" x2="2162.9" y2="1445"/>
<line x1="2332" y1="1466" x2="2332" y2="1425"/>
<line x1="303" y1="1466" x2="344" y2="1466"/>
<line x1="303" y1="1347.7" x2="324" y2="1347.7"/>
<line x1="303" y1="1229.3" x2="344" y2="1229.3"/>
<line x1="303" y1="1111" x2="324" y2="1111"/>
<line x1="303" y1="992.7" x2="344" y2="992.7"/>
<line x1="303" y1="874.3" x2="324" y2="874.3"/>
<line x1="303" y1="756" x2="344" y2="756"/>
<line x1="303" y1="637.7" x2="324" y2="637.7"/>
<line x1="303" y1="519.3" x2="344" y2="519.3"/>
<line x1="303" y1="401" x2="324" y2="401"/>
<line x1="303" y1="282.7" x2="344" y2="282.7"/>
<line x1="303" y1="164.3" x2="324" y2="164.3"/>
<line x1="303" y1="46" x2="344" y2="46"/>
<rect x="303" y="46" width="2029" height="1420"/>
<line x1="340" y1="2989" x2="340" y2="2948"/>
<line x1="506.1" y1="2989" x2="506.1" y2="2968"/>
<line x1="672.2" y1="2989" x2="672.2" y2="2948"/>
<line x1="838.2" y1="2989" x2="838.2" y2="2968"/>
<line x1="1004.3" y1="2989" x2="1004.3" y2="2948"/>
<line x1="1170.4" y1="2989" x2="1170.4" y2="2968"/>
<line x1="1336.5" y1="2989" x2="1336.5" y2="2948"/>
<line x1="1502.6" y1="2989" x2="1502.6" y2="2968"/>
<line x1="1668.7" y1="2989" x2="1668.7" y2="2948"/>
<line x1="1834.8" y1="2989" x2="1834.8" y2="2968"/>
<line x1="2000.8" y1="2989" x2="2000.8" y2="2948"/>
<line x1="2166.9" y1="2989" x2="2166.9" y2="2968"/>
<line x1="2333" y1="2989" x2="2333" y2="2948"/>
<line x1="340" y1="2989" x2="381" y2="2989"/>
<line x1="340" y1="2872.8" x2="361" y2="2872.8"/>
<line x1="340" y1="2756.7" x2="381" y2="2756.7"/>
<line x1="340" y1="2640.5" x2="361" y2="2640.5"/>
<line x1="340" y1="2524.3" x2="381" y2="2524.3"/>
<line x1="340" y1="2408.2" x2="361" y2="2408.2"/>
<line x1="340" y1="2292" x2="381" y2="2292"/>
<line x1="340" y1="2175.8" x2="361" y2="2175.8"/>
<line x1="340" y1="2059.7" x2="381" y2="2059.7"/>
<line x1="340" y1="1943.5" x2="361" y2="1943.5"/>
<line x1="340" y1="1827.3" x2="381" y2="1827.3"/>
<line x1="340" y1="1711.2" x2="361" y2="1711.2"/>
<line x1="340" y1="1595" x2="381" y2="1595"/>
<rect x="340" y="1595" width="1993" height="1394"/>
</g>
<g shape-rendering="auto" text-rendering="geometricPrecision">
<text x="286" y="1493.6" font-size="85" text-anchor="end">0</text>
<text x="286" y="1256.9" font-size="85" text-anchor="end">0.1</text>
<text x="286" y="1020.3" font-size="85" text-anchor="end">0.2</text>
<text x="286" y="783.6" font-size="85" text-anchor="end">0.3</text>
<text x="286" y="546.9" font-size="85" text-anchor="end">0.4</text>
<text x="286" y="310.3" font-size="85" text-anchor="end">0.5</text>
<text x="303" y="1543.6" font-size="85" text-anchor="middle">0</text>
<text x="641.2" y="1543.6" font-size="85" text-anchor="middle">5</text>
<text x="979.3" y="1543.6" font-size="85" text-anchor="middle">10</text>
<text x="1317.5" y="1543.6" font-size="85" text-anchor="middle">15</text>
<text x="1655.7" y="1543.6" font-size="85" text-anchor="middle">20</text>
<text x="1993.8" y="1543.6" font-size="85" text-anchor="middle">25</text>
<text x="2332" y="1543.6" font-size="85" text-anchor="middle">30</text>
<text x="323.5" y="3016.6" font-size="85" text-anchor="end">0</text>
<text x="323.5" y="2784.3" font-size="85" text-anchor="end">0.02</text>
<text x="323.5" y="2551.9" font-size="85" text-anchor="end">0.04</text>
<text x="323.5" y="2319.6" font-size="85" text-anchor="end">0.06</text>
<text x="323.5" y="2087.3" font-size="85" text-anchor="end">0.08</text>
<text x="323.5" y="1854.9" font-size="85" text-anchor="end">0.1</text>
<text x="323.5" y="1622.6" font-size="85" text-anchor="end">0.12</text>
<text x="340" y="3066.1" font-size="85" text-anchor="middle">0</text>
<text x="672.2" y="3066.1" font-size="85" text-anchor="middle">5</text>
<text x="1004.3" y="3066.1" font-size="85" text-anchor="middle">10</text>
<text x="1336.5" y="3066.1" font-size="85" text-anchor="middle">15</text>
<text x="1668.7" y="3066.1" font-size="85" text-anchor="middle">20</text>
<text x="2000.8" y="3066.1" font-size="85" text-anchor="middle">25</text>
<text x="2333" y="3066.1" font-size="85" text-anchor="middle">30</text>
<text x="652.7" y="223" font-size="85" text-anchor="start">S</text>
<text transform="translate(722.9,229.4) scale(1.11,1)" font-size="85" stroke="#000" stroke-width="0.7">=</text>
<text x="795.2" y="223" font-size="85" text-anchor="start" word-spacing="-2.5">1 Leg</text>
<text x="2160" y="181" font-size="113" text-anchor="start">(a)</text>
<text x="405.1" y="1742.9" font-size="85" text-anchor="start">S</text>
<text transform="translate(473.3,1749.3) scale(1.11,1)" font-size="85" stroke="#000" stroke-width="0.7">=</text>
<text x="545.1" y="1742.9" font-size="85" text-anchor="start" word-spacing="-1">1/2 Leg</text>
<text x="2144.5" y="1738.5" font-size="113" text-anchor="start">(b)</text>
<text x="2059.5" y="2520.8" font-size="85" text-anchor="start">Middle</text>
<text x="407.5" y="2904.7" font-size="85" text-anchor="start">End</text>
<text transform="translate(1785.5,246.5) scale(1.16,1)" font-size="92">&#945;</text>
<text transform="translate(1858.5,252.4) scale(1.11,1)" font-size="85" stroke="#000" stroke-width="0.7">=</text>
<text x="1929.1" y="246.1" font-size="85" text-anchor="start" letter-spacing="0.9">0.02</text>
<text transform="translate(1848.2,351.4) scale(1.11,1)" font-size="85" stroke="#000" stroke-width="0.7">=</text>
<text x="1918.8" y="345.1" font-size="85" text-anchor="start" letter-spacing="0.9">0.10</text>
<text transform="translate(1848.2,451.7) scale(1.11,1)" font-size="85" stroke="#000" stroke-width="0.7">=</text>
<text x="1918.8" y="445.4" font-size="85" text-anchor="start" letter-spacing="0.9">0.50</text>
<text transform="translate(1848.2,551) scale(1.11,1)" font-size="85" stroke="#000" stroke-width="0.7">=</text>
<text x="1920.3" y="544.7" font-size="85" text-anchor="start" letter-spacing="0.9">4.00</text>
<text x="1785.6" y="678.6" font-size="92.5" stroke="#000" stroke-width="0.8">|</text>
<text transform="translate(1800.1,678.6) scale(1.19,1)" font-size="85">&#961;</text>
<text x="1850.3" y="678.6" font-size="85">(</text>
<text x="1877.9" y="678.6" font-size="85">i</text>
<text x="1902.8" y="678.6" font-size="85">)</text>
<text x="1930.3" y="678.6" font-size="92.5" stroke="#000" stroke-width="0.8">|</text>
<text x="1946.2" y="628" font-size="60" text-anchor="start">S</text>
<text transform="translate(1980.1,632) scale(1.11,1)" font-size="59" stroke="#000" stroke-width="0.7">=</text>
<text x="2015.8" y="628" font-size="60" text-anchor="start">1</text>
<text x="1788.8" y="829.3" font-size="85" text-anchor="start">1.61</text>
<text x="1935.6" y="829.3" font-size="92.5" stroke="#000" stroke-width="0.8">|</text>
<text transform="translate(1949.9,829.3) scale(1.19,1)" font-size="85">&#961;</text>
<text x="2000.1" y="829.3" font-size="85">(</text>
<text x="2026.8" y="829.3" font-size="85">i</text>
<text x="2052.5" y="829.3" font-size="85">)</text>
<text x="2079.4" y="829.3" font-size="92.5" stroke="#000" stroke-width="0.8">|</text>
<text x="2096" y="778.4" font-size="60" text-anchor="start">S</text>
<text transform="translate(2129.3,782.4) scale(1.11,1)" font-size="59" stroke="#000" stroke-width="0.7">=</text>
<text x="2166.3" y="778.4" font-size="60" text-anchor="start">1/2</text>
<text x="1337.7" y="3173.2" font-size="130" text-anchor="middle">i</text>
<g transform="translate(129.9,0) rotate(-90)">
<text x="-873.2" y="2.6" font-size="137.2" stroke="#000" stroke-width="1.4">|</text>
<text transform="translate(-850.1,0) scale(1.07,1)" font-size="137.2">&#961;</text>
<text transform="translate(-776.9,-2.5) scale(1.06,1)" font-size="122.1">(</text>
<text x="-736" y="0" font-size="131.3">i</text>
<text transform="translate(-700.1,-2.5) scale(1.06,1)" font-size="122.1">)</text>
<text x="-657.2" y="2.6" font-size="137.2" stroke="#000" stroke-width="1.4">|</text>
</g>
<g transform="translate(129.1,0) rotate(-90)">
<text x="-2407.2" y="2.6" font-size="135.8" stroke="#000" stroke-width="1.4">|</text>
<text transform="translate(-2384.1,0) scale(1.07,1)" font-size="135.8">&#961;</text>
<text transform="translate(-2313.2,-2.5) scale(1.06,1)" font-size="120.9">(</text>
<text x="-2273.1" y="0" font-size="130">i</text>
<text transform="translate(-2236.9,-2.5) scale(1.06,1)" font-size="120.9">)</text>
<text x="-2195" y="2.6" font-size="135.8" stroke="#000" stroke-width="1.4">|</text>
</g>
</g>
</svg>
</body></html>
